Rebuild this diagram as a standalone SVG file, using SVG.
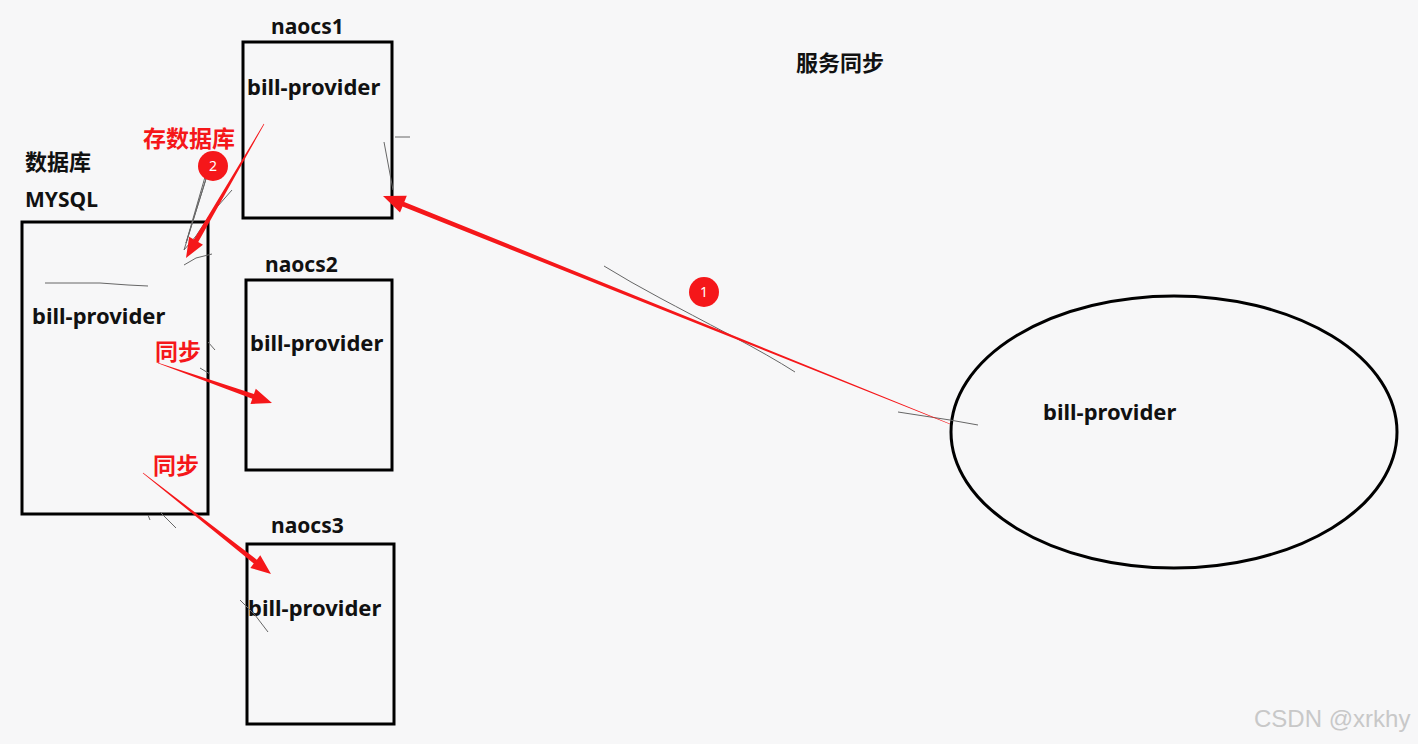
<svg xmlns="http://www.w3.org/2000/svg" width="1418" height="744" viewBox="0 0 1418 744">
<style>
.box{fill:none;stroke:#000;stroke-width:3}
.t{font-family:"Noto Sans","Noto Sans CJK SC",sans-serif;font-weight:bold;font-size:22px;fill:#111}
.n{font-size:21px}
.r{font-family:"Noto Sans CJK SC","Noto Sans",sans-serif;font-weight:bold;font-size:23px;fill:#f5171a}
.arr{fill:#f5171a}
.sk{fill:none;stroke:#666;stroke-width:1}
.num{font-family:"Noto Sans",sans-serif;font-size:14px;fill:#fff;text-anchor:middle}
</style>
<rect width="1418" height="744" fill="#f7f7f8"/>
<g id="naocs1">
<text class="t n" x="271" y="34">naocs1</text>
<rect class="box" x="243" y="42" width="149" height="176"/>
<text class="t" x="247" y="95">bill-provider</text>
</g>
<g id="title"><text class="t" x="796" y="71">服务同步</text></g>
<g id="mysql">
<text class="t" x="25" y="170">数据库</text>
<text class="t n" x="25" y="207">MYSQL</text>
<rect class="box" x="22" y="222" width="186" height="292"/>
<text class="t" x="32" y="324">bill-provider</text>
</g>
<g id="naocs2">
<text class="t n" x="265" y="272">naocs2</text>
<rect class="box" x="246" y="280" width="146" height="190"/>
<text class="t" x="250" y="351">bill-provider</text>
</g>
<g id="naocs3">
<text class="t n" x="271" y="533">naocs3</text>
<rect class="box" x="247" y="544" width="147" height="180"/>
<text class="t" x="248" y="616">bill-provider</text>
</g>
<g id="client">
<ellipse class="box" cx="1174" cy="432" rx="223" ry="136"/>
<text class="t" x="1043" y="420">bill-provider</text>
</g>
<g id="sketches">
<path class="sk" d="M604 266 Q630 282 660 298 T730 335 T795 372"/>
<path class="sk" d="M898 412 L950 420 L978 425"/>
<path class="sk" d="M207 170 L186 243 L210 166 L184 250 L196 236 L210 215 L232 190"/>
<path class="sk" d="M184 265 L196 258 L212 254"/>
<path class="sk" d="M384 142 L393 190 M395 137 L410 137"/>
<path class="sk" d="M45 283 L100 283 L128 285 L148 286"/>
<path class="sk" d="M208 342 L215 350 M200 368 L210 374"/>
<path class="sk" d="M160 512 L176 528 M148 515 L150 520"/>
<path class="sk" d="M240 600 L255 615 L268 632"/>
</g>
<g id="connectors">
<polygon class="arr" points="950.1,423.7 404.3,201.9 406.8,195.85 383,196 400,212.55 402.5,206.5 949.9,424.3"/>
<polygon class="arr" points="264.26,124.15 198.22,241.97 202.98,244.73 186,258 189.14,236.69 193.9,239.45 263.74,123.85"/>
<polygon class="arr" points="158.1,362.72 253.96,394.02 255.78,388.83 272,403 250.48,403.93 252.3,398.74 157.9,363.28"/>
<polygon class="arr" points="143.19,472.76 256.85,559.65 260.26,555.33 271,574 250.34,567.89 253.75,563.57 142.81,473.24"/>
</g>
<g id="labels">
<text class="r" x="143" y="147">存数据库</text>
<circle cx="213" cy="166" r="15" fill="#f5171a"/>
<text class="num" x="213" y="171">2</text>
<circle cx="704" cy="292" r="15" fill="#f5171a"/>
<text class="num" x="704" y="297">1</text>
<text class="r" x="155" y="360" font-size="24">同步</text>
<text class="r" x="153" y="474" font-size="24">同步</text>
</g>
<text x="1254" y="727" font-family="Liberation Sans,Arial,sans-serif" font-size="24" fill="#c8c8c8">CSDN @xrkhy</text>
</svg>
